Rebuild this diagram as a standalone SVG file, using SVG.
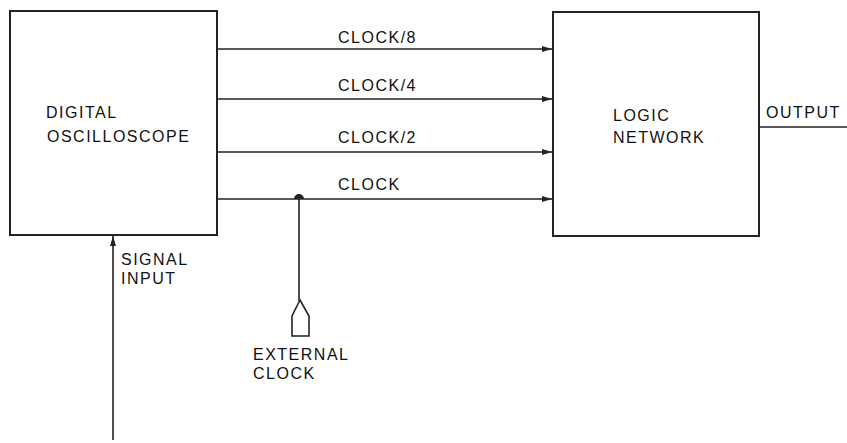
<svg xmlns="http://www.w3.org/2000/svg" width="847" height="443" viewBox="0 0 847 443">
<style>
.box{fill:#fff;stroke:#222;stroke-width:2}
.ln{fill:none;stroke:#222;stroke-width:1.6}
.t{font-family:"Liberation Sans",Arial,sans-serif;font-size:16px;letter-spacing:1.5px;fill:#111}
</style>
<defs>
<marker id="ah" viewBox="0 0 10 6" refX="10" refY="3" markerWidth="10" markerHeight="6" markerUnits="userSpaceOnUse" orient="auto">
<path d="M0,0 L10,3 L0,6 Z" fill="#222"/>
</marker>
</defs>
<rect width="847" height="443" fill="#fff"/>
<g id="osc">
<rect class="box" x="10" y="11" width="207" height="224"/>
<text class="t" x="46" y="118">DIGITAL</text>
<text class="t" x="47" y="142">OSCILLOSCOPE</text>
</g>
<g id="logic">
<rect class="box" x="553" y="12" width="206" height="224"/>
<text class="t" x="613" y="121">LOGIC</text>
<text class="t" x="613" y="143">NETWORK</text>
</g>
<g id="extclk">
<path class="ln" d="M300,300 L292,316 L292,336 L309,336 L309,316 Z"/>
<text class="t" x="253" y="360">EXTERNAL</text>
<text class="t" x="253" y="379">CLOCK</text>
</g>
<g id="connectors">
<line class="ln" x1="217" y1="49" x2="552" y2="49" marker-end="url(#ah)"/>
<line class="ln" x1="217" y1="99" x2="552" y2="99" marker-end="url(#ah)"/>
<line class="ln" x1="217" y1="152" x2="552" y2="152" marker-end="url(#ah)"/>
<line class="ln" x1="217" y1="199" x2="552" y2="199" marker-end="url(#ah)"/>
<path d="M294,199 A5,5 0 0 1 304,199 Z" fill="#222"/>
<line class="ln" x1="299" y1="199" x2="299" y2="301"/>
<line class="ln" x1="113" y1="440" x2="113" y2="236" marker-end="url(#ah)"/>
<line class="ln" x1="760" y1="127" x2="847" y2="127"/>
<text class="t" x="338" y="43">CLOCK/8</text>
<text class="t" x="338" y="91">CLOCK/4</text>
<text class="t" x="338" y="143">CLOCK/2</text>
<text class="t" x="338" y="190">CLOCK</text>
<text class="t" x="766" y="118">OUTPUT</text>
<text class="t" x="121" y="265">SIGNAL</text>
<text class="t" x="121" y="284">INPUT</text>
</g>
</svg>
